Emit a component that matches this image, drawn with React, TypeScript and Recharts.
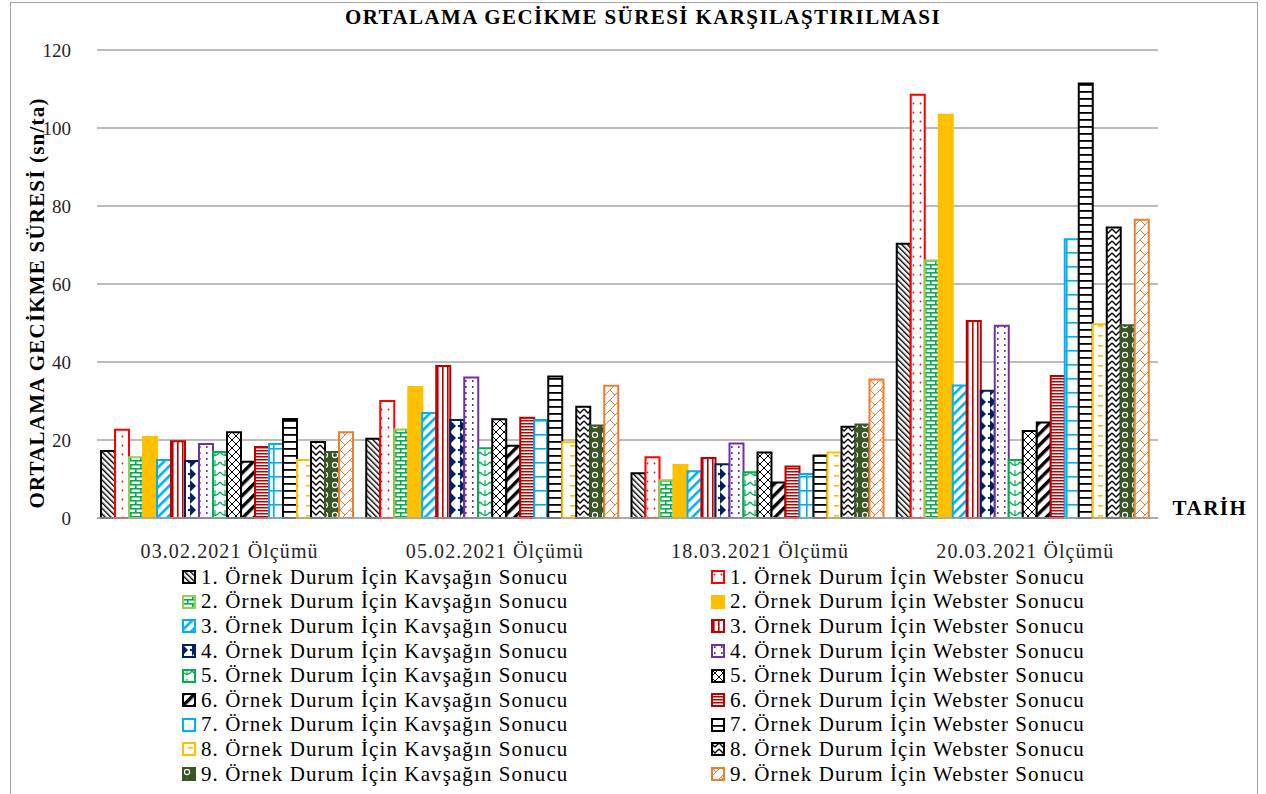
import { BarChart, Bar, XAxis, YAxis, CartesianGrid, Label } from "recharts";

const categories = ["03.02.2021 Ölçümü", "05.02.2021 Ölçümü", "18.03.2021 Ölçümü", "20.03.2021 Ölçümü"];

// Kavşağın sonuçları: her satır bir örnek durum, sütunlar ölçüm tarihleri
const kavsak = [
  [17.2, 20.3, 11.5, 70.3],
  [15.6, 22.7, 9.7, 66.0],
  [14.9, 26.9, 12.0, 34.0],
  [14.6, 25.1, 13.8, 32.6],
  [16.9, 17.9, 11.7, 14.9],
  [14.4, 18.5, 9.1, 24.5],
  [19.0, 25.1, 11.3, 71.5],
  [14.9, 19.4, 16.8, 49.7],
  [16.9, 23.7, 24.0, 49.4],
];

// Webster sonuçları
const webster = [
  [22.6, 30.0, 15.6, 108.5],
  [20.8, 33.6, 13.6, 103.4],
  [19.7, 39.0, 15.4, 50.5],
  [19.0, 36.0, 19.1, 49.3],
  [22.0, 25.3, 16.8, 22.3],
  [18.2, 25.7, 13.2, 36.4],
  [25.4, 36.3, 16.0, 111.4],
  [19.5, 28.5, 23.4, 74.5],
  [22.0, 33.9, 35.5, 76.5],
];

const yTicks = [0, 20, 40, 60, 80, 100, 120];

const kStroke = ["#000000", "#92D050", "#00B0F0", "#002060", "#00B050", "#000000", "#00B0F0", "#FFC000", "#375623"];
const wStroke = ["#FF0000", "#FFC000", "#C00000", "#7030A0", "#000000", "#C00000", "#000000", "#000000", "#ED7D31"];

const FONT = "'Liberation Serif', 'DejaVu Serif', serif";
const GRID = "#A6A6A6";

const data = categories.map((name, i) => {
  const row: Record<string, string | number> = { name };
  kavsak.forEach((v, s) => (row[`k${s + 1}`] = v[i]));
  webster.forEach((v, s) => (row[`w${s + 1}`] = v[i]));
  return row;
});

const keys: string[] = [];
for (let s = 1; s <= 9; s++) keys.push(`k${s}`, `w${s}`);

const strokeOf = (key: string) => {
  const n = Number(key.slice(1)) - 1;
  return key[0] === "k" ? kStroke[n] : wStroke[n];
};

const Patterns = () => (
  <svg width={0} height={0} style={{ position: "absolute" }}>
    <defs>
      {/* kavşak */}
      <pattern id="p-k1" width={4} height={4} patternUnits="userSpaceOnUse" patternTransform="rotate(-45)">
        <rect width={4} height={4} fill="#fff" />
        <rect width={1.4} height={4} fill="#000" />
      </pattern>
      <pattern id="p-k2" width={10} height={8} patternUnits="userSpaceOnUse">
        <rect width={10} height={8} fill="#fff" />
        <rect y={0} width={10} height={1.6} fill="#00B050" />
        <rect x={0} y={0} width={1.6} height={4} fill="#00B050" />
        <rect y={4} width={10} height={1.6} fill="#00B050" />
        <rect x={5} y={4} width={1.6} height={4} fill="#00B050" />
      </pattern>
      <pattern id="p-k3" width={7} height={7} patternUnits="userSpaceOnUse" patternTransform="rotate(45)">
        <rect width={7} height={7} fill="#fff" />
        <rect width={2.6} height={7} fill="#00B0F0" />
      </pattern>
      <pattern id="p-k4" width={10} height={12} patternUnits="userSpaceOnUse">
        <rect width={10} height={12} fill="#fff" />
        <polygon points="0,0 6,6 0,12" fill="#002060" />
        <circle cx={9} cy={6} r={1.2} fill="#002060" />
      </pattern>
      <pattern id="p-k5" width={10} height={10} patternUnits="userSpaceOnUse">
        <rect width={10} height={10} fill="#fff" />
        <path d="M0,2 Q5,9 10,2" stroke="#00B050" strokeWidth={1.3} fill="none" />
        <path d="M5,0 L5,5" stroke="#00B050" strokeWidth={1.1} />
      </pattern>
      <pattern id="p-k6" width={8} height={8} patternUnits="userSpaceOnUse" patternTransform="rotate(45)">
        <rect width={8} height={8} fill="#fff" />
        <rect width={3.4} height={8} fill="#000" />
      </pattern>
      <pattern id="p-k7" width={13} height={14} patternUnits="userSpaceOnUse">
        <rect width={13} height={14} fill="#fff" />
        <rect width={1.6} height={14} fill="#00B0F0" />
        <rect width={13} height={1.6} fill="#00B0F0" />
      </pattern>
      <pattern id="p-k8" width={12} height={10} patternUnits="userSpaceOnUse">
        <rect width={12} height={10} fill="#fff" />
        <rect x={6} y={5} width={5} height={1.6} fill="#FFC000" />
      </pattern>
      <pattern id="p-k9" width={10} height={10} patternUnits="userSpaceOnUse">
        <rect width={10} height={10} fill="#375623" />
        <circle cx={5} cy={5} r={2.6} stroke="#fff" strokeWidth={1.1} fill="none" />
      </pattern>
      {/* webster */}
      <pattern id="p-w1" width={7} height={9} patternUnits="userSpaceOnUse">
        <rect width={7} height={9} fill="#fff" />
        <circle cx={3.5} cy={4.5} r={0.9} fill="#FF0000" />
      </pattern>
      <pattern id="p-w2" width={4} height={4} patternUnits="userSpaceOnUse">
        <rect width={4} height={4} fill="#FFC000" />
      </pattern>
      <pattern id="p-w3" width={5} height={5} patternUnits="userSpaceOnUse">
        <rect width={5} height={5} fill="#fff" />
        <rect x={2} width={1.6} height={5} fill="#C00000" />
      </pattern>
      <pattern id="p-w4" width={7} height={6} patternUnits="userSpaceOnUse">
        <rect width={7} height={6} fill="#fff" />
        <rect x={3} y={2} width={1.6} height={2} fill="#7030A0" />
      </pattern>
      <pattern id="p-w5" width={8} height={8} patternUnits="userSpaceOnUse">
        <rect width={8} height={8} fill="#fff" />
        <path d="M0,0 L8,8 M8,0 L0,8" stroke="#000" strokeWidth={1} />
      </pattern>
      <pattern id="p-w6" width={4} height={3} patternUnits="userSpaceOnUse">
        <rect width={4} height={3} fill="#fff" />
        <rect width={4} height={1.5} fill="#C00000" />
      </pattern>
      <pattern id="p-w7" width={4} height={7} patternUnits="userSpaceOnUse">
        <rect width={4} height={7} fill="#fff" />
        <rect width={4} height={1.8} fill="#000" />
      </pattern>
      <pattern id="p-w8" width={8} height={6} patternUnits="userSpaceOnUse">
        <rect width={8} height={6} fill="#fff" />
        <path d="M0,1 L4,5 L8,1" stroke="#000" strokeWidth={1.4} fill="none" />
      </pattern>
      <pattern id="p-w9" width={10} height={10} patternUnits="userSpaceOnUse">
        <rect width={10} height={10} fill="#fff" />
        <path d="M0,10 L10,0 M0,0 L5,5" stroke="#ED7D31" strokeWidth={1} />
      </pattern>
    </defs>
  </svg>
);

const legendName = (key: string) =>
  `${key.slice(1)}. Örnek Durum İçin ${key[0] === "k" ? "Kavşağın" : "Webster"} Sonucu`;

const LegendItem = ({ k }: { k: string }) => (
  <div style={{ display: "flex", alignItems: "center", height: 24.6 }}>
    <svg width={14} height={14} style={{ marginRight: 5 }}>
      <rect x={1} y={1} width={12} height={12} fill={`url(#p-${k})`} stroke={strokeOf(k)} strokeWidth={2} />
    </svg>
    <span>{legendName(k)}</span>
  </div>
);

export default function App() {
  return (
    <div style={{ position: "absolute", left: 0, top: 0, width: 1266, height: 794, background: "#fff", overflow: "hidden", fontFamily: FONT }}>
      <Patterns />
      <div style={{ position: "absolute", left: 10, top: 2, width: 1248, height: 820, border: `1.5px solid ${GRID}`, boxSizing: "border-box" }} />
      <div style={{ position: "absolute", left: 0, width: 1286, top: 5, textAlign: "center", fontWeight: "bold", fontSize: 21, letterSpacing: 1.4, color: "#000" }}>
        ORTALAMA GECİKME SÜRESİ KARŞILAŞTIRILMASI
      </div>
      <div style={{ position: "absolute", left: 0, top: 0 }}>
        <BarChart
          width={1266}
          height={570}
          data={data}
          margin={{ top: 50, right: 108, left: 0, bottom: 0 }}
          barCategoryGap={4}
          barGap={0}
        >
          <CartesianGrid vertical={false} stroke={GRID} strokeWidth={1.5} />
          <XAxis
            dataKey="name"
            height={52}
            axisLine={{ stroke: GRID, strokeWidth: 1.5 }}
            tickLine={false}
            tickMargin={20}
            tick={{ fontSize: 20, fill: "#262626", fontFamily: FONT, letterSpacing: 1.1 }}
          >
            <Label
              content={({ viewBox }: any) => (
                <text x={viewBox.x + viewBox.width + 52} y={viewBox.y - 3} textAnchor="middle" fontFamily={FONT} fontWeight="bold" fontSize={21} letterSpacing={1.5} fill="#000">
                  TARİH
                </text>
              )}
            />
          </XAxis>
          <YAxis
            width={97}
            domain={[0, 120]}
            ticks={yTicks}
            axisLine={false}
            tickLine={false}
            tickMargin={20}
            tick={{ fontSize: 19, fill: "#262626", fontFamily: FONT }}
          >
            <Label
              content={() => (
                <text x={0} y={0} transform="translate(44,303) rotate(-90)" textAnchor="middle" fontFamily={FONT} fontWeight="bold" fontSize={21} letterSpacing={1.2} fill="#000">
                  ORTALAMA GECİKME SÜRESİ (sn/ta)
                </text>
              )}
            />
          </YAxis>
          {keys.map((k) => (
            <Bar key={k} dataKey={k} fill={`url(#p-${k})`} stroke={strokeOf(k)} strokeWidth={2} isAnimationActive={false} />
          ))}
        </BarChart>
      </div>
      <div style={{ position: "absolute", left: 182, top: 565, fontSize: 21, letterSpacing: 1.1, color: "#000" }}>
        {keys.filter((k) => k[0] === "k").map((k) => (
          <LegendItem key={k} k={k} />
        ))}
      </div>
      <div style={{ position: "absolute", left: 711, top: 565, fontSize: 21, letterSpacing: 1.1, color: "#000" }}>
        {keys.filter((k) => k[0] === "w").map((k) => (
          <LegendItem key={k} k={k} />
        ))}
      </div>
    </div>
  );
}
